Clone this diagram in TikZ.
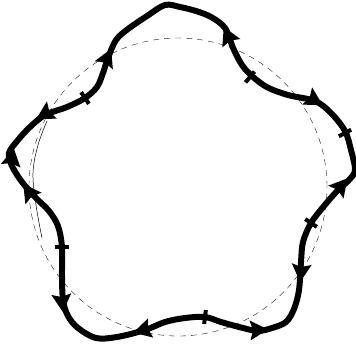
\documentclass[tikz,border=0pt]{standalone}
\begin{document}
\begin{tikzpicture}[x=1pt,y=-1pt,
  guide/.style={line width=0.35pt,dash pattern=on 6pt off 5pt},
  guidesolid/.style={line width=0.5pt},
  loopline/.style={line width=6pt,line join=round},
  ahead/.style={fill=black},
  tickmark/.style={line width=4pt}]
\useasboundingbox (0,0) rectangle (356,349);
\fill[white] (0,0) rectangle (356,349);
% faint guide circle
\draw[guide] (178,187) circle[radius=149pt];
\draw[guidesolid] plot[smooth,tension=0.6] coordinates {(47,121) (38,145) (33,173) (36,205) (42,238)};
% main loop
\draw[loopline] plot[smooth cycle, tension=0.55] coordinates {
 (165,5) (180,7) (196,11) (211,17) (225,28) (234,50) (245,69) (265,86) (288,95)
 (315,101) (331,113) (345,131) (351,150) (355,170) (349,180) (338,190) (324,206)
 (311,223) (303,242) (301,262) (299,290) (294,309) (286,322) (272,328) (258,331)
 (243,328) (221,322) (205,317) (185,318) (165,322) (145,330) (117,337) (96,338)
 (78,328) (68,316) (63,300) (62,275) (62,247) (58,226) (49,211) (36,198) (22,182)
 (12,166) (9,153) (18,140) (30,127) (45,115) (67,107) (85,98) (97,87) (103,73)
 (108,58) (116,40) (128,29) (147,16)};
% arrowheads
\newcommand{\ahd}[3]{\fill[ahead,shift={(#1,#2)},rotate=#3] (10,0) -- (-8,10) -- (-5,0) -- (-8,-10) -- cycle;}
\ahd{107}{58}{66}
\ahd{228}{36}{115}
\ahd{314}{100}{-30}
\ahd{341}{186}{50}
\ahd{301}{272}{-95}
\ahd{258}{330}{3}
\ahd{143}{330}{195}
\ahd{62}{302}{-85}
\ahd{29}{192}{125}
\ahd{12}{158}{80}
\ahd{45}{114}{210}
% cross ticks
\newcommand{\tk}[3]{\draw[tickmark,shift={(#1,#2)},rotate=#3] (0,-7) -- (0,7);}
\tk{85}{98}{34}
\tk{250}{77}{-40}
\tk{345}{133}{-62}
\tk{311}{223}{56}
\tk{205}{317}{-7}
\tk{62}{247}{90}
\end{tikzpicture}
\end{document}
